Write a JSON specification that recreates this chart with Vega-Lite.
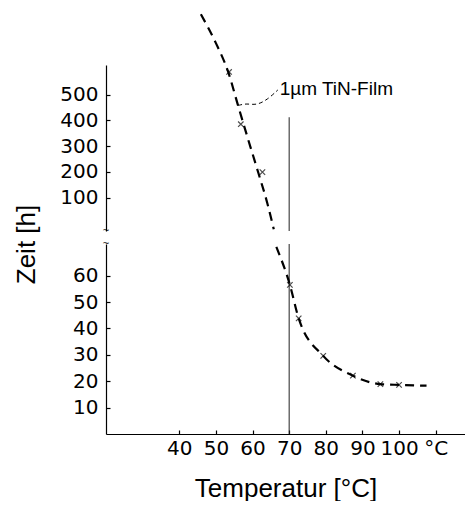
{
  "$schema": "https://vega.github.io/schema/vega-lite/v6.json",
  "padding": {"left": 13, "top": 9, "right": 0, "bottom": 0},
  "spacing": 13,
  "bounds": "flush",
  "background": "white",
  "config": {
    "view": {"stroke": null},
    "axis": {
      "grid": false,
      "domainColor": "black",
      "tickColor": "black",
      "labelColor": "black",
      "titleColor": "black",
      "labelFont": "DejaVu Sans",
      "labelFontSize": 20,
      "tickSize": -4,
      "labelPadding": 12,
      "domainWidth": 1.2,
      "tickWidth": 1.2,
      "titleFont": "Liberation Sans",
      "titleFontWeight": "normal",
      "titleFontSize": 26
    }
  },
  "datasets": {
    "upperCurve": [
      {"T": 45.9, "t": 812}, {"T": 50.0, "t": 700}, {"T": 53.4, "t": 586},
      {"T": 56.0, "t": 460}, {"T": 58.5, "t": 340}, {"T": 61.5, "t": 200},
      {"T": 64.0, "t": 80}, {"T": 65.8, "t": -23}
    ],
    "upperPoints": [
      {"T": 53.6, "t": 588}, {"T": 56.8, "t": 385}, {"T": 62.7, "t": 199}
    ],
    "leader": [
      {"T": 56.1, "t": 458}, {"T": 58.4, "t": 466}, {"T": 61.1, "t": 458},
      {"T": 64.2, "t": 482}, {"T": 66.9, "t": 518}
    ],
    "label": [{"T": 67.4, "t": 522, "text": "1µm TiN-Film"}],
    "upperRule": [{"T": 70, "t": 412, "t2": -30}],
    "upperBreak": [{"T": 20, "t": -30, "s": "~"}],
    "lowerCurve": [
      {"T": 66.5, "t": 70.9}, {"T": 70.2, "t": 56.5}, {"T": 72.6, "t": 43.8},
      {"T": 79.3, "t": 29.6}, {"T": 87.4, "t": 22.1}, {"T": 94.9, "t": 18.9},
      {"T": 100.0, "t": 18.6}, {"T": 107.5, "t": 18.3}
    ],
    "lowerPoints": [
      {"T": 70.2, "t": 56.5}, {"T": 72.6, "t": 43.8}, {"T": 79.3, "t": 29.6},
      {"T": 87.4, "t": 22.1}, {"T": 94.9, "t": 18.9}, {"T": 100.0, "t": 18.6}
    ],
    "lowerRule": [{"T": 70, "t": 72, "t2": 0}],
    "lowerBreak": [{"T": 20, "t": 72, "s": "~"}]
  },
  "vconcat": [
    {
      "width": 359,
      "height": 166,
      "encoding": {
        "x": {"field": "T", "type": "quantitative", "scale": {"domain": [20, 118]}, "axis": null},
        "y": {"field": "t", "type": "quantitative", "scale": {"domain": [-30, 615]},
              "axis": {"values": [100, 200, 300, 400, 500], "title": null}}
      },
      "layer": [
        {"data": {"name": "upperRule"}, "mark": {"type": "rule", "color": "#222", "strokeWidth": 1}, "encoding": {"y2": {"field": "t2"}}},
        {"data": {"name": "upperCurve"}, "mark": {"type": "line", "color": "black", "strokeWidth": 2.2, "strokeDash": [9, 6], "interpolate": "monotone", "clip": false}},
        {"data": {"name": "upperPoints"}, "mark": {"type": "point", "shape": "M-1,-1L1,1M-1,1L1,-1", "size": 30, "filled": false, "color": "black", "strokeWidth": 1.2}},
        {"data": {"name": "leader"}, "mark": {"type": "line", "color": "black", "strokeWidth": 1, "strokeDash": [4, 3], "interpolate": "basis"}},
        {"data": {"name": "label"}, "mark": {"type": "text", "align": "left", "baseline": "middle", "font": "Liberation Sans", "fontSize": 19, "color": "black", "clip": false}, "encoding": {"text": {"field": "text"}}},
        {"data": {"name": "upperBreak"}, "mark": {"type": "text", "fontSize": 11, "baseline": "middle", "color": "black", "clip": false}, "encoding": {"text": {"field": "s"}}}
      ]
    },
    {
      "width": 359,
      "height": 190,
      "encoding": {
        "x": {"field": "T", "type": "quantitative", "scale": {"domain": [20, 118]},
              "axis": {"values": [40, 50, 60, 70, 80, 90, 100, 110], "labelExpr": "datum.value == 110 ? '°C' : datum.label", "labelPadding": 8, "labelDx": -4, "title": "Temperatur [°C]", "titlePadding": 17}},
        "y": {"field": "t", "type": "quantitative", "scale": {"domain": [0, 72]},
              "axis": {"values": [10, 20, 30, 40, 50, 60], "title": "Zeit [h]", "titleX": -80, "titleY": 0, "titleAlign": "center", "titleBaseline": "middle", "titleAngle": -90}}
      },
      "layer": [
        {"data": {"name": "lowerRule"}, "mark": {"type": "rule", "color": "#222", "strokeWidth": 1}, "encoding": {"y2": {"field": "t2"}}},
        {"data": {"name": "lowerCurve"}, "mark": {"type": "line", "color": "black", "strokeWidth": 2.2, "strokeDash": [9, 6], "interpolate": "monotone", "clip": false}},
        {"data": {"name": "lowerPoints"}, "mark": {"type": "point", "shape": "M-1,-1L1,1M-1,1L1,-1", "size": 30, "filled": false, "color": "black", "strokeWidth": 1.2}},
        {"data": {"name": "lowerBreak"}, "mark": {"type": "text", "fontSize": 11, "baseline": "middle", "color": "black", "clip": false}, "encoding": {"text": {"field": "s"}}}
      ]
    }
  ]
}
